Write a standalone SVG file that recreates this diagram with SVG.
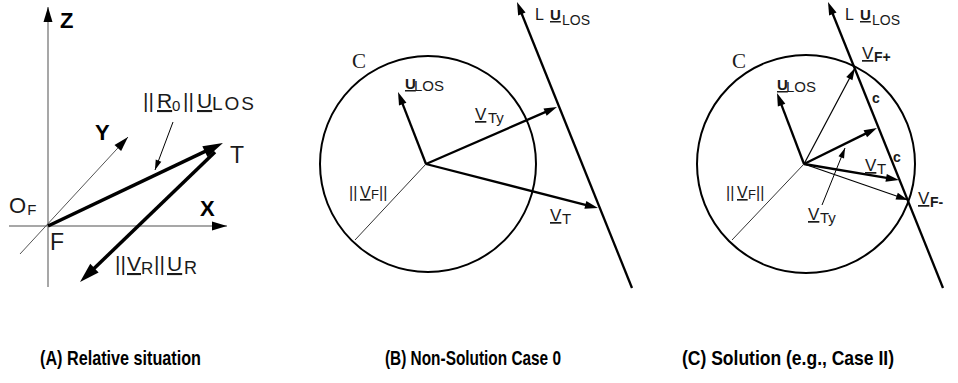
<svg xmlns="http://www.w3.org/2000/svg" width="958" height="383" viewBox="0 0 958 383">
<style>
.t{font-family:"Liberation Sans",Arial,Helvetica,sans-serif;fill:#1a1a1a}
.ax{font-weight:bold;font-size:22px;fill:#000}
.cap{font-family:"Liberation Sans",Arial,Helvetica,sans-serif;font-weight:bold;font-size:21px;fill:#000}
.ser{font-family:"Liberation Serif","Times New Roman",serif;font-size:21px;fill:#1a1a1a}
.u{text-decoration:underline}
.b{font-weight:bold}
.thick{stroke:#000;stroke-width:3.5;fill:none}
.vec{stroke:#000;stroke-width:2.3;fill:none}
.thin{stroke:#000;stroke-width:1.2;fill:none}
.rad{stroke:#333;stroke-width:1;fill:none}
.axis{stroke:#8a8a8a;stroke-width:1.5;fill:none}
.circ{stroke:#000;stroke-width:2;fill:none}
</style>
<defs>
<marker id="ahL" markerUnits="userSpaceOnUse" markerWidth="20" markerHeight="12" refX="2" refY="6" orient="auto" overflow="visible"><path d="M0,0 L20,6 L0,12 z" fill="#000"/></marker>
<marker id="ah" markerUnits="userSpaceOnUse" markerWidth="13" markerHeight="8" refX="2" refY="4" orient="auto" overflow="visible"><path d="M0,0 L13,4 L0,8 z" fill="#000"/></marker>
<marker id="ahS" markerUnits="userSpaceOnUse" markerWidth="12" markerHeight="7" refX="12" refY="3.5" orient="auto" overflow="visible"><path d="M0,0 L12,3.5 L0,7 z" fill="#000"/></marker>
<marker id="ahAx" markerUnits="userSpaceOnUse" markerWidth="15" markerHeight="9" refX="15" refY="4.5" orient="auto" overflow="visible"><path d="M0,0 L15,4.5 L0,9 z" fill="#000"/></marker>
<marker id="ahT" markerUnits="userSpaceOnUse" markerWidth="10" markerHeight="6" refX="10" refY="3" orient="auto" overflow="visible"><path d="M0,0 L10,3 L0,6 z" fill="#000"/></marker>
</defs>
<rect width="958" height="383" fill="#fff"/>

<!-- Panel A -->
<g id="panelA-axes">
<line class="axis" x1="48" y1="287" x2="48" y2="7" marker-end="url(#ahAx)"/>
<line class="axis" x1="9" y1="226" x2="227" y2="226" marker-end="url(#ahAx)"/>
<line x1="20" y1="254" x2="128" y2="137" stroke="#555" stroke-width="1" marker-end="url(#ahAx)"/>
</g>
<g id="connectors">
<line class="thick" x1="48" y1="226" x2="206.7" y2="150.7" marker-end="url(#ahL)"/>
<line class="thick" x1="215" y1="152" x2="93" y2="269.5" marker-end="url(#ahL)"/>
<line x1="173" y1="122" x2="155" y2="170" stroke="#000" stroke-width="1" marker-end="url(#ahT)"/>
<!-- Panel B -->
<line class="vec" x1="632" y1="288" x2="521.1" y2="12.2" marker-end="url(#ah)"/>
<line class="vec" x1="426" y1="164" x2="402" y2="102.3" marker-end="url(#ah)"/>
<line class="vec" x1="426" y1="164" x2="546.9" y2="111.4" marker-end="url(#ah)"/>
<line class="vec" x1="426" y1="164" x2="587.3" y2="205.3" marker-end="url(#ah)"/>
<line class="rad" x1="426" y1="164" x2="355" y2="240"/>
<!-- Panel C -->
<line class="vec" x1="943" y1="288" x2="832.1" y2="12.2" marker-end="url(#ah)"/>
<line class="vec" x1="804" y1="164" x2="780.9" y2="103.3" marker-end="url(#ah)"/>
<line class="thin" x1="804" y1="164" x2="855" y2="68" marker-end="url(#ahS)"/>
<line class="thin" x1="804" y1="164" x2="908" y2="200" marker-end="url(#ahS)"/>
<line class="vec" x1="804" y1="164" x2="867.1" y2="132.9" marker-end="url(#ah)"/>
<line class="vec" x1="804" y1="164" x2="888.1" y2="178.2" marker-end="url(#ah)"/>
<line x1="822" y1="205" x2="845" y2="148" stroke="#000" stroke-width="1" marker-end="url(#ahT)"/>
<line class="rad" x1="804" y1="164" x2="732" y2="240"/>
</g>

<g id="labelA-Z"><text class="t ax" x="60" y="28">Z</text></g>
<g id="labelA-X"><text class="t ax" x="200" y="216">X</text></g>
<g id="labelA-Y"><text class="t ax" x="95" y="140">Y</text></g>
<g id="labelA-OF"><text class="t" x="9" y="213" font-size="22">O<tspan font-size="15" dx="1" dy="2">F</tspan></text></g>
<g id="labelA-F"><text class="t" x="50" y="250" font-size="23">F</text></g>
<g id="labelA-T"><text class="t" x="230" y="163" font-size="23">T</text></g>
<g id="labelA-R0"><text class="t" x="143" y="108" font-size="21">||<tspan x="157" class="u">R</tspan><tspan x="172" font-size="15" dy="3">0</tspan><tspan x="183" dy="-3">||</tspan><tspan x="197" class="u">U</tspan><tspan x="212" font-size="19" dy="2" letter-spacing="2">LOS</tspan></text></g>
<g id="labelA-VR"><text class="t" x="115" y="271" font-size="21">||<tspan x="127" class="u">V</tspan><tspan x="141" font-size="17" dy="3">R</tspan><tspan x="154" dy="-3">||</tspan><tspan x="167" class="u">U</tspan><tspan x="184" font-size="18" dy="3">R</tspan></text></g>

<!-- Panel B nodes -->
<g id="circleB"><circle class="circ" cx="428" cy="164" r="108"/></g>
<g id="labelB-C"><text class="ser" x="352" y="68">C</text></g>
<g id="labelB-L"><text class="t" x="535" y="20" font-size="16">L<tspan x="550" class="u b" font-size="15">U</tspan><tspan x="562" dy="5" font-size="14">LOS</tspan></text></g>
<g id="labelB-ULOS"><text class="t" x="405" y="89" font-size="15"><tspan class="u b">U</tspan><tspan x="414" dy="2">LOS</tspan></text></g>
<g id="labelB-VTy"><text class="t" x="475" y="120" font-size="17"><tspan class="u">V</tspan><tspan x="488" dy="3" font-size="15">Ty</tspan></text></g>
<g id="labelB-VT"><text class="t" x="550" y="221" font-size="17"><tspan class="u">V</tspan><tspan x="562" dy="3" font-size="15">T</tspan></text></g>
<g id="labelB-VF"><text class="t" x="349" y="198" font-size="16">||<tspan x="360" class="u">V</tspan><tspan x="371" font-size="13" dy="1">F</tspan><tspan x="379" dy="-1">||</tspan></text></g>

<!-- Panel C nodes -->
<g id="circleC"><circle class="circ" cx="806" cy="164" r="109"/></g>
<g id="labelC-C"><text class="ser" x="732" y="68">C</text></g>
<g id="labelC-L"><text class="t" x="845" y="20" font-size="16">L<tspan x="860" class="u b" font-size="15">U</tspan><tspan x="872" dy="5" font-size="14">LOS</tspan></text></g>
<g id="labelC-ULOS"><text class="t" x="777" y="90" font-size="15"><tspan class="u b">U</tspan><tspan x="786" dy="2">LOS</tspan></text></g>
<g id="labelC-VFp"><text class="t" x="862" y="59" font-size="17"><tspan class="u">V</tspan><tspan x="874" dy="3" font-size="14" class="b">F+</tspan></text></g>
<g id="labelC-VFm"><text class="t" x="918" y="204" font-size="17"><tspan class="u">V</tspan><tspan x="930" dy="3" font-size="14" class="b">F-</tspan></text></g>
<g id="labelC-c1"><text class="t b" x="872" y="103" font-size="14">c</text></g>
<g id="labelC-c2"><text class="t b" x="893" y="162" font-size="14">c</text></g>
<g id="labelC-VT"><text class="t" x="865" y="171" font-size="17"><tspan class="u">V</tspan><tspan x="877" dy="3" font-size="15">T</tspan></text></g>
<g id="labelC-VTy"><text class="t" x="808" y="220" font-size="17"><tspan class="u">V</tspan><tspan x="820" dy="3" font-size="15">Ty</tspan></text></g>
<g id="labelC-VF"><text class="t" x="726" y="198" font-size="16">||<tspan x="737" class="u">V</tspan><tspan x="748" font-size="13" dy="1">F</tspan><tspan x="756" dy="-1">||</tspan></text></g>

<!-- Captions -->
<g id="captionA"><text class="cap" x="40" y="365" textLength="161" lengthAdjust="spacingAndGlyphs">(A) Relative situation</text></g>
<g id="captionB"><text class="cap" x="385" y="365" textLength="176" lengthAdjust="spacingAndGlyphs">(B) Non-Solution Case 0</text></g>
<g id="captionC"><text class="cap" x="682" y="365" textLength="212" lengthAdjust="spacingAndGlyphs">(C) Solution (e.g., Case II)</text></g>
</svg>
